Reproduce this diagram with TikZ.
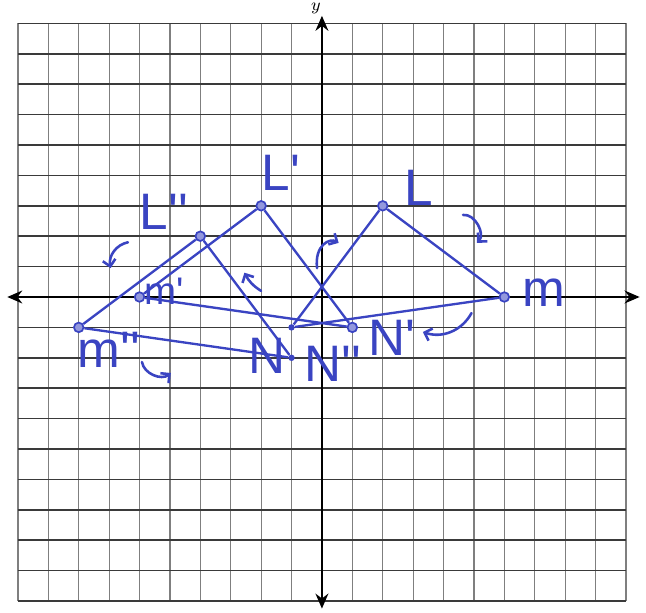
\documentclass[tikz,border=0pt]{standalone}
\usepackage{fontspec}
\newfontfamily\handfont{Liberation Sans}
\usepackage{xcolor}
\definecolor{penblue}{HTML}{3A44C2}
\definecolor{gridink}{HTML}{3A3A3A}
\usepackage{tikz}
\usetikzlibrary{arrows.meta}
\tikzset{
  vdot/.style={circle, draw=penblue, fill=penblue!55, line width=0.8pt, inner sep=0pt, minimum size=4.5pt},
  ndot/.style={circle, fill=penblue, inner sep=0pt, minimum size=3pt},
  side/.style={draw=penblue, line width=1.1pt},
  vlabel/.style={text=penblue, font=\handfont\fontsize{24}{26}\selectfont, inner sep=0pt},
  turn/.style={draw=penblue, line width=1.2pt, line cap=round, -{Straight Barb[length=3pt,width=6pt]}},
  axis/.style={line width=1.1pt, {Stealth[length=7pt,width=6pt]}-{Stealth[length=7pt,width=6pt]}}
}
\begin{document}
\begin{tikzpicture}[x=5mm,y=5mm]
  \useasboundingbox (-10.59,-10.39) rectangle (10.66,9.77);
  % Graph paper
  \foreach \i in {-10,...,10} {
    \draw[line width=0.55pt, color=gridink!65] (\i,-10) -- (\i,9);
  }
  \foreach \j in {-10,...,9} {
    \draw[line width=0.7pt, color=gridink] (-10,\j) -- (10,\j);
  }
  % Axes
  \draw[axis] (-10.35,0) -- (10.45,0);
  \draw[axis] (0,-10.25) -- (0,9.25);
  \node[font=\footnotesize, inner sep=0pt] (ylab) at (-0.2,9.48) {$y$};
  % Vertices
  \node[vdot] (L) at (2,3) {};
  \node[vdot] (M) at (6,0) {};
  \node[ndot] (N) at (-1,-1) {};
  \node[vdot] (Lp) at (-2,3) {};
  \node[vdot] (Mp) at (-6,0) {};
  \node[vdot] (Np) at (1,-1) {};
  \node[vdot] (Lpp) at (-4,2) {};
  \node[vdot] (Mpp) at (-8,-1) {};
  \node[ndot] (Npp) at (-1,-2) {};
  % Triangles
  \foreach \a/\b in {L/M, M/N, N/L, Lp/Mp, Mp/Np, Np/Lp, Lpp/Mpp, Mpp/Npp, Npp/Lpp} {
    \draw[side] (\a) -- (\b);
  }
  % Labels
  \node[vlabel] (Ltext) at (3.2,3.6) {L};
  \node[vlabel] (Mtext) at (7.3,0.15) {m};
  \node[vlabel] (Ntext) at (-1.8,-1.95) {N};
  \node[vlabel] (Lptext) at (-1.35,4.1) {L'};
  \node[vlabel, font=\handfont\fontsize{18}{20}\selectfont] (Mptext) at (-5.2,0.2) {m'};
  \node[vlabel] (Nptext) at (2.3,-1.35) {N'};
  \node[vlabel] (Lpptext) at (-5.2,2.8) {L''};
  \node[vlabel] (Mpptext) at (-7.0,-1.75) {m''};
  \node[vlabel] (Npptext) at (0.35,-2.2) {N''};
  % Turning marks
  \draw[turn] (-6.38,1.8) to[bend right=45] (-6.95,0.95);
  \draw[turn] (-2.0,0.2) to[bend left=15] (-2.55,0.8);
  \draw[turn] (-0.16,0.95) .. controls (-0.25,1.7) and (0.25,1.95) .. (0.55,1.78);
  \draw[turn] (4.64,2.7) to[bend left=70] (5.1,1.78);
  \draw[turn] (4.92,-0.53) to[bend left=40] (3.32,-1.15);
  \draw[turn] (-5.92,-2.14) to[bend right=60] (-4.97,-2.5);
\end{tikzpicture}
\end{document}
